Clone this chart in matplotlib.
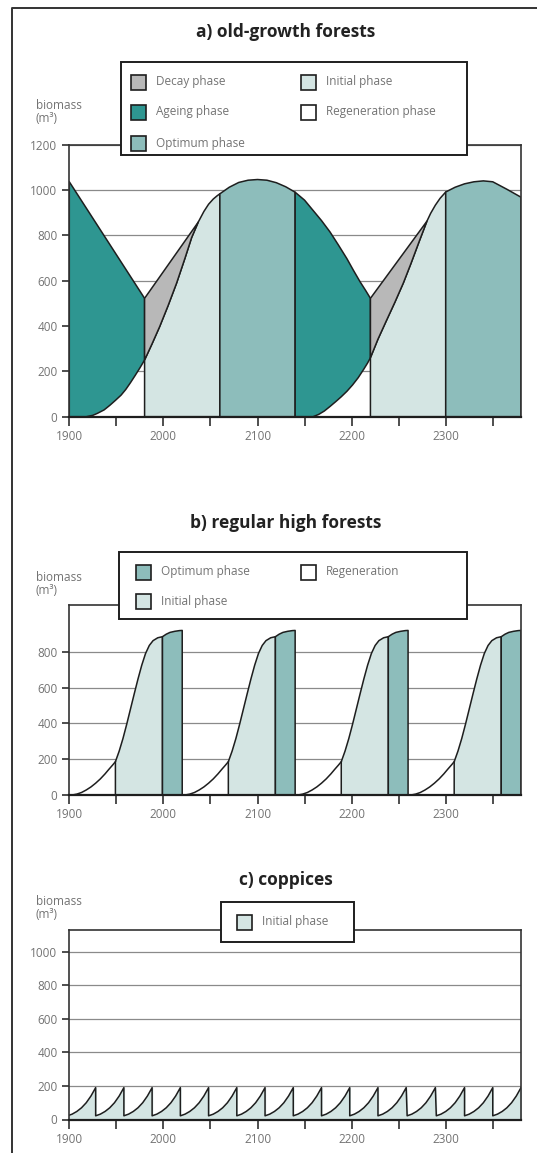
import matplotlib
import matplotlib.patches as mpatches
import matplotlib.lines as mlines
from matplotlib import pyplot as plt

matplotlib.use('Agg')
plt.rcParams['font.family'] = ['Open Sans', 'DejaVu Sans']

W, H = 537, 1153  # output size in pixels

c_decay = '#b8b8b8'
c_ageing = '#2e9691'
c_optimum = '#8dbdbb'
c_initial = '#d4e5e3'
c_text = '#737373'
c_ink = '#1e1e1e'
c_grid = '#8a8a8a'

x_ticks = [1900, 1950, 2000, 2050, 2100, 2150, 2200, 2250, 2300, 2350]
x_ticklabels = ['1900', '', '2000', '', '2100', '', '2200', '', '2300', '']

# a) old-growth forests
a_yticks = [0, 200, 400, 600, 800, 1000, 1200]
a_ageing1_x = [1900, 1980]
a_ageing1_y = [1036, 522]
a_regen1_x = [1918, 1925, 1930, 1937, 1943, 1949, 1955, 1960, 1965, 1970, 1975, 1980]
a_regen1_y = [0, 6, 15, 30, 50, 72, 95, 120, 150, 182, 215, 250]
a_initial1_x = [1980, 1988, 1996, 2005, 2014, 2023, 2030, 2037, 2043, 2048, 2053, 2057, 2060]
a_initial1_y = [250, 322, 397, 490, 589, 700, 790, 858, 905, 937, 960, 974, 983]
a_decay1_top = 522
a_decay1_apex = 7
a_optimum1_x = [2060, 2070, 2080, 2090, 2100, 2110, 2120, 2130, 2140]
a_optimum1_y = [983, 1012, 1033, 1043, 1046, 1043, 1032, 1014, 990]
a_ageing2_x = [2140, 2150, 2159, 2168, 2177, 2186, 2195, 2202, 2209, 2215, 2220]
a_ageing2_y = [990, 955, 910, 865, 815, 757, 697, 645, 595, 556, 522]
a_regen2_x = [2159, 2165, 2171, 2177, 2183, 2189, 2195, 2201, 2207, 2213, 2217, 2220]
a_regen2_y = [0, 10, 25, 45, 66, 88, 112, 140, 172, 210, 237, 260]
a_initial2_x = [2220, 2228, 2237, 2246, 2255, 2263, 2272, 2280, 2284, 2289, 2294, 2300]
a_initial2_y = [260, 342, 424, 505, 590, 675, 775, 862, 897, 933, 963, 991]
a_decay2_top = 522
a_decay2_apex = 7
a_optimum2_x = [2300, 2310, 2320, 2330, 2340, 2350, 2365, 2380]
a_optimum2_y = [991, 1012, 1027, 1036, 1040, 1036, 1003, 968]

# b) regular high forests: one rotation, repeated from each start year
b_yticks = [0, 200, 400, 600, 800]
b_cycle_start = [1900, 2020, 2140, 2260]
b_regen_dx = [3, 8, 13, 18, 23, 28, 33, 38, 42, 46, 49]
b_regen_y = [0, 5, 14, 28, 45, 66, 90, 118, 143, 167, 186]
b_initial_dx = [49, 53, 57, 61, 65, 69, 73, 77, 81, 85, 89, 94, 99]
b_initial_y = [186, 245, 315, 395, 480, 565, 648, 725, 790, 835, 862, 878, 884]
b_optimum_dx = [99, 103, 107, 112, 117, 120]
b_optimum_y = [884, 898, 908, 914, 918, 919]

# c) coppices
c_yticks = [0, 200, 400, 600, 800, 1000]
c_cut_year = [1928, 1958, 1988, 2018, 2048, 2078, 2108, 2138, 2168, 2198, 2228, 2258, 2289, 2320, 2350, 2380]
c_tooth_dx = [-30, -25, -20, -15, -10, -5, 0]
c_tooth_y = [22, 32, 48, 70, 100, 140, 190]


def px_axes(fig, left, top, right, bottom):
    return fig.add_axes([left / W, 1 - bottom / H, (right - left) / W, (bottom - top) / H])


def style_axes(ax, ymax, yticks):
    ax.set_xlim(1900, 2380)
    ax.set_ylim(0, ymax)
    ax.set_xticks(x_ticks)
    ax.set_xticklabels(x_ticklabels)
    ax.set_yticks(yticks)
    ax.tick_params(axis='both', direction='out', width=1.1, color=c_ink,
                   labelcolor=c_text, labelsize=8.5)
    ax.tick_params(axis='x', length=6.5, pad=3)
    ax.tick_params(axis='y', length=5, pad=3.5)
    for y in yticks[1:]:
        ax.axhline(y, color=c_grid, lw=0.9, zorder=0.5)
    for side in ['top', 'right', 'left']:
        ax.spines[side].set_color('#333333')
        ax.spines[side].set_linewidth(1.2)
    ax.spines['bottom'].set_color(c_ink)
    ax.spines['bottom'].set_linewidth(1.6)
    for s in ax.spines.values():
        s.set_zorder(4)


def poly(ax, xs, ys, color):
    ax.fill(xs, ys, facecolor=color, edgecolor=c_ink, lw=1.1, joinstyle='round', zorder=2)


def legend_box(fig, box, entries):
    x0, y0, x1, y1 = box
    fig.patches.append(mpatches.Rectangle((x0 / W, 1 - y1 / H), (x1 - x0) / W, (y1 - y0) / H,
                                          transform=fig.transFigure, facecolor='white',
                                          edgecolor=c_ink, lw=1.4, zorder=5))
    for label, color, x, y in entries:
        fig.patches.append(mpatches.Rectangle((x / W, 1 - (y + 7.5) / H), 15 / W, 15 / H,
                                              transform=fig.transFigure, facecolor=color,
                                              edgecolor=c_ink, lw=1.2, zorder=6))
        fig.text((x + 25) / W, 1 - y / H, label, color=c_text, fontsize=8.5,
                 va='center', ha='left', zorder=7)


def side_label(fig, y):
    fig.text(36 / W, 1 - y / H, 'biomass\n(m³)', color=c_text, fontsize=8.5,
             va='center', ha='left', linespacing=0.95)


fig = plt.figure(figsize=(W / 100, H / 100), dpi=100)

# outer frame
fig.add_artist(mlines.Line2D([12 / W, 12 / W, 1.0], [0.0, 1 - 8 / H, 1 - 8 / H],
                             transform=fig.transFigure, color='#333333', lw=1.4))

# ---- a) old-growth forests
ax = px_axes(fig, 69.3, 144.6, 521, 416.7)
style_axes(ax, 1200, a_yticks)
poly(ax, [1900] + a_ageing1_x + a_regen1_x[::-1], [0] + a_ageing1_y + a_regen1_y[::-1], c_ageing)
poly(ax, [1980] + a_initial1_x + [2060], [0] + a_initial1_y + [0], c_initial)
poly(ax, [1980] + a_initial1_x[a_decay1_apex::-1], [a_decay1_top] + a_initial1_y[a_decay1_apex::-1], c_decay)
poly(ax, [2060] + a_optimum1_x + [2140], [0] + a_optimum1_y + [0], c_optimum)
poly(ax, [2140] + a_ageing2_x + a_regen2_x[::-1], [0] + a_ageing2_y + a_regen2_y[::-1], c_ageing)
poly(ax, [2220] + a_initial2_x + [2300], [0] + a_initial2_y + [0], c_initial)
poly(ax, [2220] + a_initial2_x[a_decay2_apex::-1], [a_decay2_top] + a_initial2_y[a_decay2_apex::-1], c_decay)
poly(ax, [2300] + a_optimum2_x + [2380], [0] + a_optimum2_y + [0], c_optimum)
fig.text(286 / W, 1 - 32 / H, 'a) old-growth forests', fontsize=12.5, fontweight='bold',
         color='#222222', ha='center', va='center')
side_label(fig, 112)
legend_box(fig, (121, 62, 467, 155), [
    ('Decay phase', c_decay, 131, 82),
    ('Ageing phase', c_ageing, 131, 112),
    ('Optimum phase', c_optimum, 131, 143),
    ('Initial phase', c_initial, 301, 82),
    ('Regeneration phase', 'white', 301, 112),
])

# ---- b) regular high forests
ax = px_axes(fig, 69.3, 605, 521, 795)
style_axes(ax, 1061, b_yticks)
for s in b_cycle_start:
    ax.plot([s + d for d in b_regen_dx], b_regen_y, color=c_ink, lw=1.1, zorder=3)
    poly(ax, [s + b_initial_dx[0]] + [s + d for d in b_initial_dx] + [s + b_initial_dx[-1]],
         [0] + b_initial_y + [0], c_initial)
    poly(ax, [s + b_optimum_dx[0]] + [s + d for d in b_optimum_dx] + [s + b_optimum_dx[-1]],
         [0] + b_optimum_y + [0], c_optimum)
fig.text(286 / W, 1 - 523 / H, 'b) regular high forests', fontsize=12.5, fontweight='bold',
         color='#222222', ha='center', va='center')
side_label(fig, 584)
legend_box(fig, (119, 552, 467, 619), [
    ('Optimum phase', c_optimum, 136, 572),
    ('Initial phase', c_initial, 136, 601),
    ('Regeneration', 'white', 301, 572),
])

# ---- c) coppices
ax = px_axes(fig, 69.3, 930, 521, 1119.5)
style_axes(ax, 1130, c_yticks)
cx, cy = [], []
for p in c_cut_year:
    for d, v in zip(c_tooth_dx, c_tooth_y):
        cx.append(p + d)
        cy.append(v)
ax.fill_between(cx, 0, cy, color=c_initial, zorder=2)
ax.plot(cx, cy, color=c_ink, lw=1.1, zorder=3)
fig.text(286 / W, 1 - 880 / H, 'c) coppices', fontsize=12.5, fontweight='bold',
         color='#222222', ha='center', va='center')
side_label(fig, 908)
legend_box(fig, (221, 902, 354, 942), [
    ('Initial phase', c_initial, 237, 922),
])

fig.savefig('out.png', dpi=100)
